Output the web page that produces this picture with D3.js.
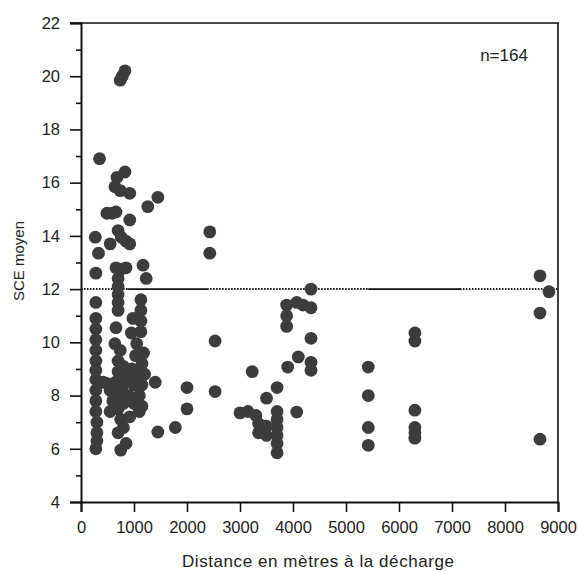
<!DOCTYPE html>
<html>
<head>
<meta charset="utf-8">
<script src="https://cdn.jsdelivr.net/npm/d3@7"></script>
<style>
  body { margin: 0; background: #fff; }
  svg { font-family: "Liberation Sans", Arial, sans-serif; }
</style>
</head>
<body>
<svg id="chart" width="579" height="571"></svg>
<script>
// distance (m) / SCE moyen pairs
const nearSites = [
    [830, 20.2], [780, 20.0], [740, 19.85],
    [350, 16.9],
    [830, 16.4], [680, 16.2], [640, 15.85], [740, 15.7], [920, 15.6],
    [1450, 15.45], [1260, 15.1],
    [490, 14.85], [590, 14.85], [660, 14.9], [920, 14.6],
    [700, 14.2], [760, 13.95], [850, 13.8], [920, 13.7],
    [270, 13.95], [550, 13.7], [330, 13.35], [280, 12.6],
    [660, 12.8], [760, 12.75], [850, 12.8], [1170, 12.9], [1230, 12.4],
    [700, 12.4], [700, 12.1], [700, 11.8], [700, 11.5], [700, 11.2],
    [280, 11.5],
    [1130, 11.6], [1130, 11.2], [1130, 10.8], [1130, 10.4],
    [980, 10.9], [660, 10.55],
    [280, 10.9], [280, 10.5], [280, 10.1], [280, 9.7], [280, 9.3], [280, 8.95],
    [280, 8.6], [280, 8.2], [280, 7.8], [280, 7.4], [300, 7.0], [300, 6.6],
    [300, 6.3], [280, 6.0],
    [420, 8.5], [500, 8.45], [550, 8.2],
    [950, 10.35], [1050, 9.95], [640, 9.95], [740, 9.7],
    [1030, 9.5], [1180, 9.6], [700, 9.3], [800, 9.1], [1150, 9.2], [960, 9.0],
    [700, 8.9], [850, 8.7], [1050, 8.8], [1200, 8.8], [650, 8.5], [800, 8.4],
    [1000, 8.4], [1150, 8.4], [1400, 8.5], [700, 8.1], [900, 8.0], [1100, 8.0],
    [600, 7.8], [800, 7.7], [1000, 7.7], [1150, 7.6], [550, 7.4], [700, 7.5],
    [1100, 7.4], [750, 7.1], [920, 7.2], [800, 6.8], [700, 6.6],
    [850, 6.2], [750, 5.95],
    [1450, 6.63], [1780, 6.8]
];

const midSites = [
    [2430, 14.15], [2430, 13.35], [2530, 10.05],
    [2000, 8.3], [2530, 8.15], [2000, 7.5],
    [3230, 8.9],
    [3000, 7.35], [3150, 7.4], [3300, 7.25], [3350, 6.95], [3350, 6.6],
    [3500, 6.5], [3500, 6.85], [3500, 7.9], [3700, 8.3], [3700, 7.4],
    [3700, 7.1], [3700, 6.8], [3700, 6.5], [3700, 6.2], [3700, 5.85],
    [3880, 11.4], [3880, 11.0], [3880, 10.6], [4070, 11.5], [4190, 11.4],
    [4340, 12.0], [4340, 11.3], [4340, 10.15], [4340, 9.25], [4340, 8.95],
    [4100, 9.45], [3900, 9.07], [4070, 7.38]
];

const farSites = [
    [5420, 9.07], [5420, 8.0], [5420, 6.8], [5420, 6.13],
    [6300, 10.35], [6300, 10.05], [6300, 7.45], [6300, 6.8], [6300, 6.6], [6300, 6.4],
    [8660, 12.5], [8830, 11.9], [8660, 11.1], [8660, 6.36]
];

const xTicks = [0, 1000, 2000, 3000, 4000, 5000, 6000, 7000, 8000, 9000];
const yTicks = [4, 6, 8, 10, 12, 14, 16, 18, 20, 22];
const yMinorTicks = [5, 7, 9, 11, 13, 15, 17, 19, 21];

// reference level at 12, drawn in pieces like the scan (dotted / solid)
const refLevel = 12;
const refPieces = [
    [0, 880, true], [880, 2380, false], [2380, 5420, true],
    [5420, 7150, false], [7150, 9000, true]
];

const sampleSize = 164;

const svg = d3.select("#chart");
const plotLeft = 81, plotRight = 558, plotTop = 23, plotBottom = 502;

const x = d3.scaleLinear().domain([0, 9000]).range([plotLeft, plotRight]);
const y = d3.scaleLinear().domain([4, 22]).range([plotBottom, plotTop]);

// frame
svg.append("line")
    .attr("x1", plotLeft - 11).attr("x2", plotRight + 1)
    .attr("y1", plotTop).attr("y2", plotTop)
    .attr("stroke", "#111").attr("stroke-width", 1.6);
svg.append("line")
    .attr("x1", plotRight).attr("x2", plotRight)
    .attr("y1", plotTop).attr("y2", plotBottom)
    .attr("stroke", "#111").attr("stroke-width", 1.6);

// reference line
svg.append("g")
    .selectAll("line")
    .data(refPieces)
    .enter()
    .append("line")
    .attr("x1", d => x(d[0]))
    .attr("x2", d => x(d[1]))
    .attr("y1", y(refLevel))
    .attr("y2", y(refLevel))
    .attr("stroke", "#111")
    .attr("stroke-width", d => d[2] ? 2 : 1.8)
    .attr("stroke-dasharray", d => d[2] ? "1.5,1.5" : null);

// axes
svg.append("g")
    .attr("transform", `translate(${plotLeft},0)`)
    .call(d3.axisLeft(y).tickValues(yTicks).tickSize(11).tickPadding(10).tickFormat(d3.format("d")));
svg.append("g")
    .attr("transform", `translate(${plotLeft},0)`)
    .call(d3.axisLeft(y).tickValues(yMinorTicks).tickSize(5).tickFormat(""))
    .call(g => g.select(".domain").remove());

svg.append("g")
    .attr("transform", `translate(0,${plotBottom})`)
    .call(d3.axisBottom(x).tickValues(xTicks).tickSize(10).tickPadding(9).tickFormat(d3.format("d")));

svg.selectAll(".domain").attr("stroke", "#111").attr("stroke-width", 2);
svg.selectAll(".tick line").attr("stroke", "#111").attr("stroke-width", 1.6);
svg.selectAll(".tick text")
    .attr("fill", "#222")
    .style("font-family", "'Liberation Sans', Arial, sans-serif")
    .style("font-size", "16.5px");

// points
const allSites = nearSites.concat(midSites, farSites);
svg.append("g")
    .selectAll("circle")
    .data(allSites)
    .enter()
    .append("circle")
    .attr("cx", d => x(d[0]))
    .attr("cy", d => y(d[1]))
    .attr("r", 6.4)
    .attr("fill", "#3c3c3c");

// labels
svg.append("text")
    .attr("x", 504)
    .attr("y", 61)
    .attr("text-anchor", "middle")
    .attr("fill", "#222")
    .style("font-size", "17px")
    .text("n=" + sampleSize);

svg.append("text")
    .attr("x", 318)
    .attr("y", 567)
    .attr("text-anchor", "middle")
    .attr("fill", "#222")
    .style("font-size", "17px")
    .attr("textLength", 272)
    .text("Distance en mètres à la décharge");

svg.append("text")
    .attr("transform", "translate(24,261) rotate(-90)")
    .attr("text-anchor", "middle")
    .attr("fill", "#222")
    .style("font-size", "15px")
    .text("SCE moyen");
</script>
</body>
</html>
